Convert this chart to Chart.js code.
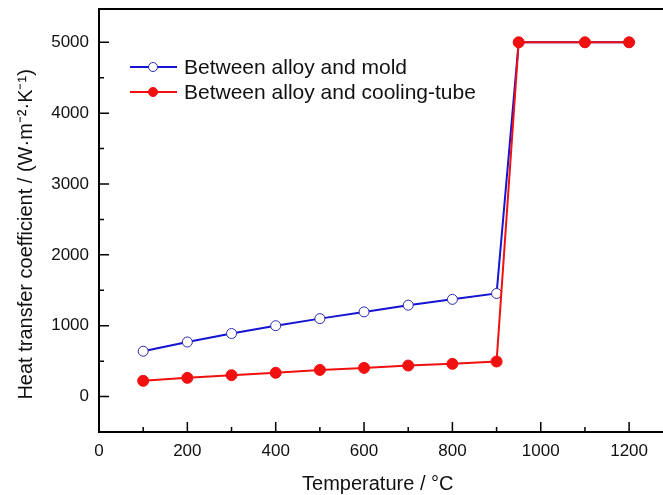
<!DOCTYPE html>
<html>
<head>
<meta charset="utf-8">
<script src="https://cdn.jsdelivr.net/npm/chart.js@4/dist/chart.umd.min.js"></script>
<style>
  html, body { margin: 0; padding: 0; background: #fff; }
  #wrap { width: 663px; height: 495px; }
</style>
</head>
<body>
<div id="wrap"><canvas id="htc" width="663" height="495"></canvas></div>
<script>
// data
const temps = [100, 200, 300, 400, 500, 600, 700, 800, 900, 950, 1100, 1200];
const moldHtc = [640, 770, 890, 1000, 1100, 1195, 1290, 1372, 1455, 5000, 5000, 5000];
const tubeHtc = [222, 264, 302, 336, 376, 405, 438, 462, 495, 5000, 5000, 5000];
const xTicks = [0, 200, 400, 600, 800, 1000, 1200];
const xMinor = [100, 300, 500, 700, 900, 1100];
const yTicks = [0, 1000, 2000, 3000, 4000, 5000];
const yMinor = [500, 1500, 2500, 3500, 4500];

const FONT = 'Arial, "Liberation Sans", sans-serif';
const toPts = (xs, ys) => xs.map((x, i) => ({ x: x, y: ys[i] }));

// frame, inward ticks, legend inside plot
const frameAndLegend = {
    id: 'frameAndLegend',
    afterDraw(chart) {
        const ctx = chart.ctx, a = chart.chartArea;
        const xs = chart.scales.x, ys = chart.scales.y;
        ctx.save();
        ctx.strokeStyle = '#000';
        ctx.lineWidth = 2;
        ctx.beginPath();
        ctx.moveTo(chart.width, a.top);
        ctx.lineTo(a.left, a.top);
        ctx.lineTo(a.left, a.bottom);
        ctx.lineTo(chart.width, a.bottom);
        ctx.stroke();

        ctx.lineWidth = 1.5;
        ctx.beginPath();
        xTicks.forEach(v => { const p = xs.getPixelForValue(v); ctx.moveTo(p, a.bottom); ctx.lineTo(p, a.bottom - 10); });
        xMinor.forEach(v => { const p = xs.getPixelForValue(v); ctx.moveTo(p, a.bottom); ctx.lineTo(p, a.bottom - 5); });
        yTicks.forEach(v => { const p = ys.getPixelForValue(v); ctx.moveTo(a.left, p); ctx.lineTo(a.left + 10, p); });
        yMinor.forEach(v => { const p = ys.getPixelForValue(v); ctx.moveTo(a.left, p); ctx.lineTo(a.left + 5, p); });
        ctx.stroke();

        // legend
        const items = chart.data.datasets.slice().sort((p, q) => p.legendIdx - q.legendIdx);
        ctx.font = '21px ' + FONT;
        ctx.textBaseline = 'middle';
        items.forEach((ds, i) => {
            const y = a.top + 58 + i * 25;
            const x0 = a.left + 31;
            ctx.strokeStyle = ds.borderColor;
            ctx.lineWidth = 2;
            ctx.beginPath();
            ctx.moveTo(x0, y);
            ctx.lineTo(x0 + 47, y);
            ctx.stroke();
            ctx.beginPath();
            ctx.arc(x0 + 23, y, 4.5, 0, Math.PI * 2);
            ctx.fillStyle = ds.pointBackgroundColor;
            ctx.fill();
            ctx.lineWidth = 1;
            ctx.strokeStyle = ds.pointBorderColor;
            ctx.stroke();
            ctx.fillStyle = '#111';
            ctx.fillText(ds.label, x0 + 54, y + 1);
        });
        ctx.restore();
    }
};

new Chart(document.getElementById('htc'), {
    type: 'line',
    data: {
        datasets: [
            {
                label: 'Between alloy and mold',
                legendIdx: 0,
                order: 2,
                data: toPts(temps, moldHtc),
                borderColor: '#1414d2',
                borderWidth: 2,
                pointRadius: 5,
                pointBackgroundColor: '#fff',
                pointBorderColor: '#2a2ab0',
                pointBorderWidth: 1,
                tension: 0
            },
            {
                label: 'Between alloy and cooling-tube',
                legendIdx: 1,
                order: 1,
                data: toPts(temps, tubeHtc),
                borderColor: '#f01010',
                borderWidth: 2,
                pointRadius: 5.5,
                pointBackgroundColor: '#f01010',
                pointBorderColor: '#f01010',
                pointBorderWidth: 1,
                tension: 0
            }
        ]
    },
    options: {
        responsive: false,
        animation: false,
        layout: { padding: { top: 9, right: 0, left: 10, bottom: 0 } },
        plugins: { legend: { display: false }, tooltip: { enabled: false } },
        scales: {
            x: {
                type: 'linear',
                min: 0,
                max: 1262,
                afterBuildTicks: s => { s.ticks = xTicks.map(v => ({ value: v })); },
                afterFit: s => { s.height = 63; s.paddingLeft = 0; s.paddingRight = 0; },
                grid: { display: false, drawTicks: false },
                border: { display: false },
                ticks: { color: '#111', font: { family: FONT, size: 17 }, padding: 9, maxRotation: 0, callback: v => String(v) },
                title: { display: true, text: 'Temperature / °C', color: '#111', font: { family: FONT, size: 20 }, padding: { top: 19, bottom: -1.5 } }
            },
            y: {
                type: 'linear',
                min: -500,
                max: 5470,
                afterBuildTicks: s => { s.ticks = yTicks.map(v => ({ value: v })); },
                afterFit: s => { s.width = 89; s.paddingTop = 0; s.paddingBottom = 0; },
                grid: { display: false, drawTicks: false },
                border: { display: false },
                ticks: { color: '#111', font: { family: FONT, size: 17 }, padding: 10, callback: v => String(v) },
                title: { display: true, text: 'Heat transfer coefficient / (W·m⁻²·K⁻¹)     ', color: '#111', font: { family: FONT, size: 20 }, padding: { bottom: 4 } }
            }
        }
    },
    plugins: [frameAndLegend]
});
</script>
</body>
</html>
